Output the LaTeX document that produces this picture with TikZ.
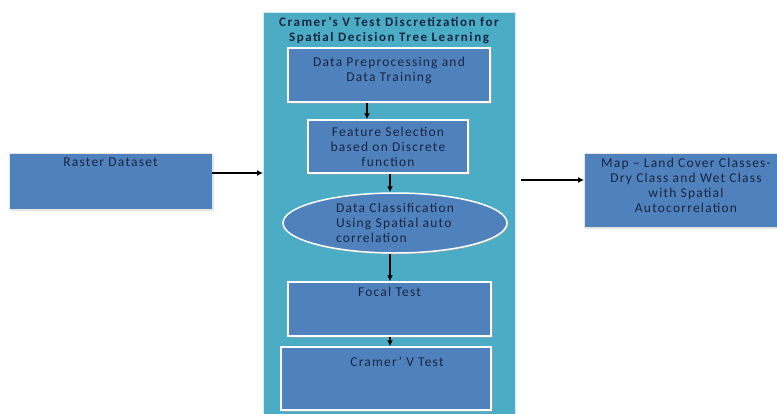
\documentclass[tikz,border=0pt]{standalone}
\usepackage{fontspec}
\setmainfont{Carlito}[LetterSpace=9]
\usetikzlibrary{shapes.geometric,shadows,arrows.meta}
\definecolor{panelteal}{HTML}{4BACC6}
\definecolor{boxblue}{HTML}{4F81BD}
\definecolor{textnavy}{HTML}{1B2540}

\begin{document}
\begin{tikzpicture}[x=1pt,y=-1pt,
  blockbox/.style={draw=white, line width=1.5pt, fill=boxblue, inner sep=0pt,
    drop shadow={shadow xshift=1.5pt, shadow yshift=-1.5pt, fill=black!35, opacity=0.5}},
  outbox/.style={draw=black!10, line width=0.8pt, fill=boxblue, inner sep=0pt,
    drop shadow={shadow xshift=1.5pt, shadow yshift=-1.5pt, fill=black!20, opacity=0.5}},
  toplabel/.style={anchor=north, yshift=-2pt, text=textnavy, font=\fontsize{13.5}{15}\selectfont},
  words/.style={text=textnavy, font=\fontsize{13.5}{15}\selectfont, align=center},
  flow/.style={-{Latex[length=6pt,width=6pt]}, line width=1.4pt, black}]

\clip (0,0) rectangle (777,413);
\fill[white] (0,0) rectangle (777,413);

\node[draw=white!75!panelteal, line width=0.8pt, fill=panelteal, minimum width=252, minimum height=420, anchor=north west] (panel) at (263,12) {};
\node[words, font=\bfseries\fontsize{13}{15}\selectfont\addfontfeatures{LetterSpace=12}] (title) at (389,30.5) {Cramer's V Test Discretization for\\Spatial Decision Tree Learning};

\node[blockbox, minimum width=202, minimum height=54, label={[toplabel, yshift=-4pt, align=center]north:Data Preprocessing and\\Data Training}] (prep) at (389,75) {};
\node[blockbox, minimum width=160, minimum height=53, words] (feat) at (388,146.5) {Feature Selection\\based on Discrete\\function};
\node[blockbox, ellipse, minimum width=224, minimum height=60, words, align=left] (cls) at (395,223) {Data Classification\\Using Spatial auto\\correlation};
\node[blockbox, minimum width=203, minimum height=54, label={[toplabel]north:Focal Test}] (focal) at (389.5,309) {};
\node[blockbox, minimum width=210, minimum height=63, label={[toplabel, yshift=-5pt, xshift=11pt]north:Cramer' V Test}] (cramer) at (386,378.5) {};

\node[outbox, minimum width=203, minimum height=56, label={[toplabel]north:Raster Dataset}] (raster) at (110.5,181) {};
\node[outbox, minimum width=205, minimum height=74, words] (map) at (687,190) {};
\node[words] (maptext) at (686,185) {Map -- Land Cover Classes-\\Dry Class and Wet Class\\with Spatial\\Autocorrelation};

\draw[flow] (prep.south -| 367,0) -- (feat.north -| 367,0);
\draw[flow] (feat.south -| 390,0) -- (cls.north -| 390,0);
\draw[flow] (cls.south -| 390,0) -- (focal.north -| 390,0);
\draw[flow] (focal.south -| 390,0) -- (cramer.north -| 390,0);
\draw[flow] (raster.east |- 0,173) -- (panel.west |- 0,173);
\draw[flow, shorten <=5pt] (panel.east |- 0,180) -- (map.west |- 0,180);

\end{tikzpicture}
\end{document}
